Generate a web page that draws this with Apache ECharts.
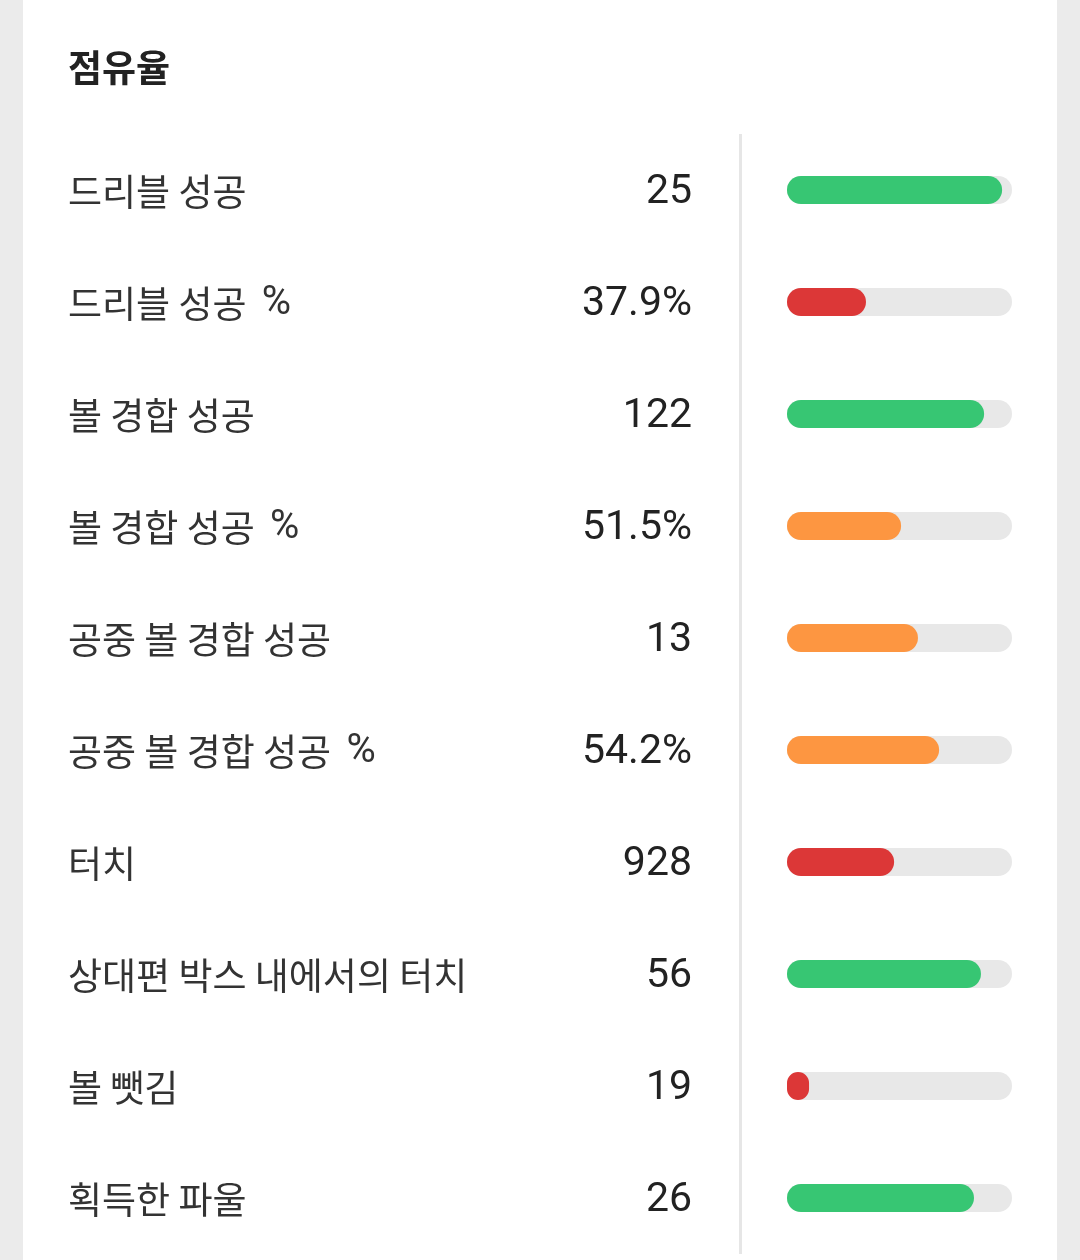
<!DOCTYPE html>
<html>
<head>
<meta charset="utf-8">
<script src="https://cdn.jsdelivr.net/npm/echarts@6/dist/echarts.min.js"></script>
<style>
html,body{margin:0;padding:0;background:#ebebeb;}
#chart{width:1080px;height:1260px;}
</style>
</head>
<body>
<div id="chart"></div>
<script>
const title = '점유율';
const categories = ['드리블 성공','드리블 성공 %','볼 경합 성공','볼 경합 성공 %','공중 볼 경합 성공','공중 볼 경합 성공 %','터치','상대편 박스 내에서의 터치','볼 뺏김','획득한 파울'];
const valueLabels = ['25','37.9%','122','51.5%','13','54.2%','928','56','19','26'];
const fillPercent = [95.6, 35.1, 87.6, 50.7, 58.2, 67.6, 47.6, 86.2, 9.8, 83.1];
const tiers = ['good','bad','good','mid','mid','mid','bad','good','bad','good'];

const tierColor = {good:'#37c673', mid:'#fd9641', bad:'#dc3737'};

const chart = echarts.init(document.getElementById('chart'), null, {renderer:'canvas'});
chart.setOption({
  animation:false,
  backgroundColor:'transparent',
  graphic:[
    {type:'rect', shape:{x:23,y:0,width:1034,height:1260}, style:{fill:'#ffffff'}, z:-10},
    {type:'line', shape:{x1:740.5,y1:134,x2:740.5,y2:1254}, style:{stroke:'#e6e6e6',lineWidth:3}, z:-5},
    {type:'text', left:68, top:49, style:{text:title, font:'bold 37px "Noto Sans CJK KR"', fill:'#222222'}}
  ],
  grid:{left:787, width:225, top:134, height:1120, containLabel:false},
  xAxis:{type:'value', min:0, max:100, show:false},
  yAxis:[
    {type:'category', data:categories, inverse:true, position:'left',
     axisLine:{show:false}, axisTick:{show:false}, splitLine:{show:false},
     axisLabel:{margin:719, align:'left', color:'#333333', fontSize:37, fontFamily:'"Noto Sans CJK KR"',
       padding:[4,0,0,0],
       formatter:function(v){
         if (v.endsWith(' %')) return '{k|' + v.slice(0,-1) + '}{p|%}';
         return '{k|' + v + '}';
       },
       rich:{
         k:{fontSize:37, fontFamily:'"Noto Sans CJK KR"', color:'#333333'},
         p:{fontSize:40, fontFamily:'Roboto', color:'#333333', padding:[0,0,0,7]}
       }}},
    {type:'category', data:valueLabels, inverse:true, position:'left', offset:0,
     axisLine:{show:false}, axisTick:{show:false}, splitLine:{show:false},
     axisLabel:{margin:95, align:'right', color:'#222222', fontSize:41, fontFamily:'Roboto', padding:[5,0,0,0],
       formatter:function(v){ return '{v|' + v + '}'; },
       rich:{ v:{fontSize:41, fontFamily:'Roboto', color:'#222222'} }}}
  ],
  series:[{
    type:'bar',
    yAxisIndex:0,
    barWidth:28,
    showBackground:true,
    backgroundStyle:{color:'#e8e8e8', borderRadius:14},
    data:fillPercent.map((v,i)=>({value:v, itemStyle:{color:tierColor[tiers[i]], borderRadius:14}}))
  }]
});
</script>
</body>
</html>
